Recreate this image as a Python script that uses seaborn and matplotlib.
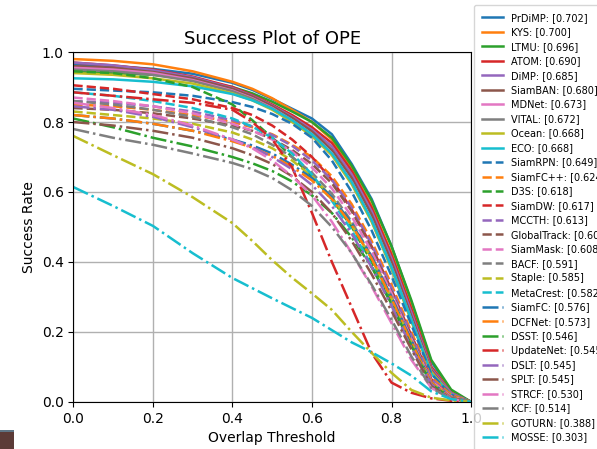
import matplotlib
matplotlib.use("Agg")
import matplotlib.pyplot as plt
import seaborn as sns
from matplotlib.patches import Rectangle

thresholds = [0, 0.1, 0.2, 0.3, 0.4, 0.45, 0.5, 0.55, 0.6, 0.65, 0.7, 0.75, 0.8, 0.85, 0.9, 0.95, 1.0]

trackers = ["PrDiMP", "KYS", "LTMU", "ATOM", "DiMP", "SiamBAN", "MDNet", "VITAL", "Ocean", "ECO",
            "SiamRPN", "SiamFC++", "D3S", "SiamDW", "MCCTH", "GlobalTrack", "SiamMask", "BACF", "Staple", "MetaCrest",
            "SiamFC", "DCFNet", "DSST", "UpdateNet", "DSLT", "SPLT", "STRCF", "KCF", "GOTURN", "MOSSE"]
auc_labels = ["0.702", "0.700", "0.696", "0.690", "0.685", "0.680", "0.673", "0.672", "0.668", "0.668",
              "0.649", "0.624", "0.618", "0.617", "0.613", "0.609", "0.608", "0.591", "0.585", "0.582",
              "0.576", "0.573", "0.546", "0.545", "0.545", "0.545", "0.530", "0.514", "0.388", "0.303"]

PrDiMP = [0.965, 0.96, 0.952, 0.938, 0.912, 0.892, 0.866, 0.838, 0.81, 0.765, 0.68, 0.58, 0.445, 0.285, 0.115, 0.03, 0.0]
KYS = [0.98, 0.975, 0.965, 0.945, 0.915, 0.895, 0.868, 0.835, 0.80, 0.75, 0.665, 0.56, 0.425, 0.27, 0.10, 0.03, 0.0]
LTMU = [0.945, 0.94, 0.935, 0.922, 0.9, 0.882, 0.858, 0.83, 0.80, 0.755, 0.675, 0.575, 0.445, 0.29, 0.12, 0.035, 0.0]
ATOM = [0.97, 0.962, 0.95, 0.93, 0.9, 0.877, 0.85, 0.82, 0.785, 0.74, 0.66, 0.555, 0.42, 0.265, 0.1, 0.025, 0.0]
DiMP = [0.97, 0.962, 0.948, 0.928, 0.897, 0.875, 0.847, 0.815, 0.778, 0.73, 0.65, 0.545, 0.41, 0.255, 0.095, 0.025, 0.0]
SiamBAN = [0.96, 0.955, 0.943, 0.925, 0.895, 0.873, 0.845, 0.812, 0.773, 0.72, 0.64, 0.535, 0.4, 0.245, 0.09, 0.02, 0.0]
MDNet = [0.955, 0.95, 0.94, 0.92, 0.89, 0.868, 0.84, 0.805, 0.765, 0.71, 0.628, 0.52, 0.385, 0.235, 0.085, 0.02, 0.0]
VITAL = [0.95, 0.945, 0.935, 0.917, 0.888, 0.866, 0.838, 0.803, 0.762, 0.708, 0.625, 0.518, 0.385, 0.233, 0.085, 0.02, 0.0]
Ocean = [0.94, 0.935, 0.925, 0.91, 0.882, 0.862, 0.835, 0.8, 0.76, 0.705, 0.622, 0.515, 0.38, 0.23, 0.085, 0.02, 0.0]
ECO = [0.925, 0.922, 0.915, 0.902, 0.88, 0.862, 0.838, 0.805, 0.765, 0.71, 0.628, 0.52, 0.385, 0.235, 0.08, 0.02, 0.0]
SiamRPN = [0.895, 0.89, 0.885, 0.875, 0.857, 0.843, 0.823, 0.795, 0.755, 0.69, 0.6, 0.49, 0.36, 0.22, 0.08, 0.02, 0.0]
SiamFCpp = [0.85, 0.845, 0.835, 0.82, 0.8, 0.785, 0.765, 0.735, 0.7, 0.645, 0.565, 0.46, 0.335, 0.2, 0.07, 0.02, 0.0]
D3S = [0.945, 0.94, 0.925, 0.9, 0.85, 0.805, 0.755, 0.7, 0.645, 0.58, 0.5, 0.4, 0.29, 0.17, 0.06, 0.015, 0.0]
SiamDW = [0.905, 0.895, 0.88, 0.865, 0.84, 0.82, 0.79, 0.75, 0.7, 0.635, 0.55, 0.445, 0.32, 0.19, 0.065, 0.015, 0.0]
MCCTH = [0.86, 0.855, 0.845, 0.83, 0.805, 0.787, 0.763, 0.732, 0.69, 0.635, 0.555, 0.45, 0.325, 0.19, 0.065, 0.015, 0.0]
GlobalTrack = [0.84, 0.835, 0.825, 0.81, 0.79, 0.775, 0.752, 0.72, 0.68, 0.625, 0.545, 0.44, 0.315, 0.185, 0.06, 0.015, 0.0]
SiamMask = [0.87, 0.86, 0.845, 0.825, 0.795, 0.775, 0.75, 0.715, 0.67, 0.61, 0.53, 0.43, 0.31, 0.18, 0.06, 0.015, 0.0]
BACF = [0.86, 0.85, 0.835, 0.815, 0.785, 0.765, 0.735, 0.7, 0.655, 0.595, 0.515, 0.415, 0.3, 0.175, 0.055, 0.012, 0.0]
Staple = [0.83, 0.82, 0.81, 0.795, 0.77, 0.75, 0.725, 0.69, 0.645, 0.585, 0.505, 0.41, 0.295, 0.17, 0.055, 0.012, 0.0]
MetaCrest = [0.885, 0.875, 0.86, 0.84, 0.81, 0.787, 0.755, 0.71, 0.65, 0.575, 0.49, 0.39, 0.28, 0.16, 0.05, 0.01, 0.0]
SiamFC = [0.82, 0.81, 0.795, 0.775, 0.75, 0.733, 0.71, 0.678, 0.64, 0.585, 0.51, 0.415, 0.3, 0.175, 0.055, 0.012, 0.0]
DCFNet = [0.82, 0.81, 0.795, 0.775, 0.745, 0.727, 0.703, 0.672, 0.633, 0.58, 0.505, 0.41, 0.295, 0.17, 0.055, 0.012, 0.0]
DSST = [0.81, 0.785, 0.755, 0.73, 0.7, 0.682, 0.66, 0.63, 0.59, 0.54, 0.47, 0.385, 0.28, 0.16, 0.05, 0.01, 0.0]
UpdateNet = [0.885, 0.875, 0.865, 0.855, 0.835, 0.8, 0.75, 0.67, 0.54, 0.4, 0.27, 0.14, 0.055, 0.026, 0.01, 0.003, 0.0]
DSLT = [0.845, 0.835, 0.815, 0.785, 0.75, 0.728, 0.7, 0.665, 0.62, 0.56, 0.48, 0.385, 0.275, 0.155, 0.05, 0.01, 0.0]
SPLT = [0.8, 0.79, 0.775, 0.755, 0.725, 0.705, 0.68, 0.645, 0.6, 0.54, 0.46, 0.365, 0.26, 0.15, 0.045, 0.01, 0.0]
STRCF = [0.855, 0.84, 0.82, 0.79, 0.75, 0.725, 0.69, 0.645, 0.59, 0.515, 0.425, 0.33, 0.225, 0.12, 0.04, 0.008, 0.0]
KCF = [0.78, 0.755, 0.735, 0.71, 0.683, 0.665, 0.64, 0.605, 0.56, 0.5, 0.425, 0.335, 0.235, 0.13, 0.04, 0.008, 0.0]
GOTURN = [0.76, 0.705, 0.651, 0.585, 0.511, 0.46, 0.405, 0.355, 0.31, 0.263, 0.2, 0.14, 0.083, 0.034, 0.012, 0.004, 0.0]
MOSSE = [0.614, 0.56, 0.503, 0.425, 0.354, 0.325, 0.296, 0.268, 0.24, 0.205, 0.17, 0.142, 0.11, 0.075, 0.03, 0.008, 0.0]

series = [PrDiMP, KYS, LTMU, ATOM, DiMP, SiamBAN, MDNet, VITAL, Ocean, ECO,
          SiamRPN, SiamFCpp, D3S, SiamDW, MCCTH, GlobalTrack, SiamMask, BACF, Staple, MetaCrest,
          SiamFC, DCFNet, DSST, UpdateNet, DSLT, SPLT, STRCF, KCF, GOTURN, MOSSE]

palette = sns.color_palette("tab10", 10)
linestyles = ["-", "--", "-."]

fig = plt.figure(figsize=(5.97, 4.49), dpi=100)
ax = fig.add_axes([0.123, 0.105, 0.666, 0.779])

for i, (name, vals) in enumerate(zip(trackers, series)):
    sns.lineplot(x=thresholds, y=vals, ax=ax, color=palette[i % 10],
                 linestyle=linestyles[min(i // 10, 2)], linewidth=1.8,
                 label=f"{name}: [{auc_labels[i]}]")

ax.set_xlim(0, 1)
ax.set_ylim(0, 1)
ax.set_xticks([0, 0.2, 0.4, 0.6, 0.8, 1.0])
ax.set_yticks([0, 0.2, 0.4, 0.6, 0.8, 1.0])
ax.tick_params(labelsize=10)
ax.grid(True, color="#b0b0b0", linewidth=1)
ax.set_xlabel("Overlap Threshold", fontsize=10)
ax.set_ylabel("Success Rate", fontsize=10)
ax.set_title("Success Plot of OPE", fontsize=13)

leg = ax.legend(loc="upper left", bbox_to_anchor=(0.794, 0.989),
                bbox_transform=fig.transFigure, fontsize=7, handlelength=2.2,
                labelspacing=0.46, borderaxespad=0, borderpad=0.8, frameon=True)

fig.patches.append(Rectangle((0, 0), 14 / 597, 19 / 449, transform=fig.transFigure,
                             facecolor="#5c3b37", edgecolor="none"))
fig.patches.append(Rectangle((0, 17 / 449), 14 / 597, 2 / 449, transform=fig.transFigure,
                             facecolor="#5f7585", edgecolor="none"))

fig.savefig("out.png", dpi=100)
